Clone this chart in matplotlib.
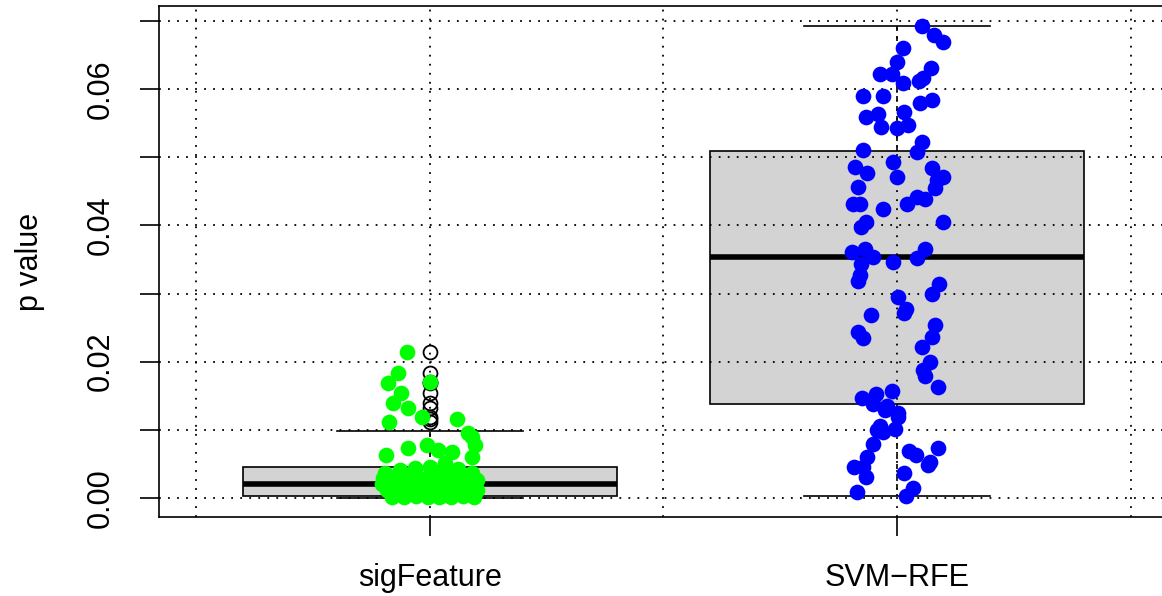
import matplotlib
matplotlib.use('Agg')
import matplotlib.pyplot as plt

plt.rcParams['font.family'] = ['Liberation Sans', 'DejaVu Sans']

groups = ['sigFeature', 'SVM\u2212RFE']
positions = [1, 2]

# five-number summaries
q1 = [0.0003, 0.0138]
med = [0.0021, 0.0354]
q3 = [0.0045, 0.0509]
whis_lo = [0.0000, 0.0003]
whis_hi = [0.0098, 0.0692]

# jittered points: horizontal offset from the group centre, p value
sig_jit = [-0.050, -0.068, -0.090, -0.062, -0.079, -0.047, -0.088, -0.017, 0.000, 0.058,
           0.081, 0.090, 0.096, -0.094, -0.047, -0.006, 0.017, 0.047, 0.090,
           -0.096, -0.064, -0.032, 0.000, 0.032, 0.060, 0.090, -0.080, 0.045, 0.015,
           -0.100, -0.075, -0.047, -0.020, 0.010, 0.036, 0.062, 0.085, 0.100,
           -0.103, -0.083, -0.056, -0.030, -0.005, 0.020, 0.045, 0.070, 0.095,
           -0.092, -0.066, -0.040, -0.015, 0.010, 0.035, 0.060, 0.085, 0.101,
           -0.082, -0.056, -0.030, -0.005, 0.020, 0.045, 0.070, 0.095, -0.070, 0.030]
sig_p = [0.0214, 0.0183, 0.0169, 0.0154, 0.0139, 0.0132, 0.0111, 0.0119, 0.0170, 0.0116,
         0.0095, 0.0089, 0.0078, 0.0063, 0.0073, 0.0078, 0.0070, 0.0067, 0.0060,
         0.0037, 0.0041, 0.0044, 0.0046, 0.0051, 0.0043, 0.0037, 0.0030, 0.0039, 0.0035,
         0.0029, 0.0031, 0.0034, 0.0028, 0.0033, 0.0030, 0.0027, 0.0032, 0.0026,
         0.0020, 0.0018, 0.0022, 0.0019, 0.0023, 0.0020, 0.0017, 0.0022, 0.0019,
         0.0011, 0.0009, 0.0012, 0.0008, 0.0011, 0.0010, 0.0013, 0.0009, 0.0012,
         0.0002, 0.0001, 0.0003, 0.0001, 0.0002, 0.0001, 0.0003, 0.0002, 0.0006, 0.0005]

svm_jit = [0.054, 0.079, 0.098, 0.013, 0.000, -0.036, -0.011, 0.013, 0.073, 0.047,
           0.056, -0.073, -0.030, 0.049, 0.075, -0.066, -0.041, -0.034, 0.015, 0.000,
           0.024, 0.054, 0.043, -0.073, -0.009, -0.090, -0.064, 0.000, 0.075, 0.098,
           -0.084, 0.086, 0.081, -0.094, -0.079, -0.030, 0.021, 0.043, 0.060, -0.066,
           -0.077, 0.098, -0.096, -0.069, -0.051, -0.077, -0.079, -0.084, -0.009, 0.043,
           0.060, 0.090, 0.075, 0.002, 0.019, 0.015, -0.056, -0.084, -0.073, 0.081,
           0.075, 0.054, 0.071, 0.056, 0.060, 0.088, -0.075, -0.051, -0.045, -0.011,
           -0.021, -0.026, 0.002, 0.002, -0.036, -0.043, -0.030, -0.004, -0.051, -0.064,
           -0.092, -0.073, -0.066, -0.086, 0.026, 0.041, 0.088, 0.071, 0.066, 0.015,
           0.034, 0.019]
svm_p = [0.0692, 0.0679, 0.0669, 0.0660, 0.0640, 0.0622, 0.0622, 0.0609, 0.0631, 0.0612,
         0.0616, 0.0590, 0.0590, 0.0579, 0.0584, 0.0559, 0.0563, 0.0544, 0.0566, 0.0543,
         0.0547, 0.0522, 0.0508, 0.0511, 0.0493, 0.0486, 0.0477, 0.0471, 0.0484, 0.0471,
         0.0456, 0.0466, 0.0455, 0.0431, 0.0431, 0.0424, 0.0431, 0.0442, 0.0439, 0.0405,
         0.0398, 0.0405, 0.0361, 0.0365, 0.0354, 0.0343, 0.0327, 0.0318, 0.0346, 0.0352,
         0.0365, 0.0314, 0.0299, 0.0295, 0.0277, 0.0271, 0.0268, 0.0244, 0.0235, 0.0254,
         0.0236, 0.0222, 0.0200, 0.0188, 0.0179, 0.0163, 0.0147, 0.0138, 0.0153, 0.0157,
         0.0135, 0.0129, 0.0125, 0.0119, 0.0106, 0.0100, 0.0097, 0.0101, 0.0079, 0.0060,
         0.0045, 0.0045, 0.0031, 0.0009, 0.0069, 0.0063, 0.0073, 0.0053, 0.0048, 0.0037,
         0.0015, 0.0003]

point_colors = ['#00ff00', '#0000ff']
y_ticks = [0.00, 0.01, 0.02, 0.03, 0.04, 0.05, 0.06, 0.07]
y_labels = ['0.00', '', '0.02', '', '0.04', '', '0.06', '']

fliers = [[v for v in sig_p if v > whis_hi[0]], [v for v in svm_p if v > whis_hi[1]]]

stats = []
for i in range(2):
    stats.append({'q1': q1[i], 'med': med[i], 'q3': q3[i],
                  'whislo': whis_lo[i], 'whishi': whis_hi[i], 'fliers': fliers[i]})

fig = plt.figure(figsize=(11.62, 5.96), dpi=100)
ax = fig.add_axes([159 / 1162, 1 - 517 / 596, (1168 - 159) / 1162, (517 - 6) / 596])

ax.bxp(stats, positions=positions, widths=0.8, patch_artist=True, zorder=2,
       boxprops=dict(facecolor='#d3d3d3', edgecolor='black', linewidth=1.2),
       medianprops=dict(color='black', linewidth=4, solid_capstyle='butt'),
       whiskerprops=dict(color='black', linewidth=1.2, linestyle=(0, (3, 3))),
       capprops=dict(color='black', linewidth=1.2),
       flierprops=dict(marker='o', markerfacecolor='none', markeredgecolor='black',
                       markersize=10, markeredgewidth=1.3))

# dotted grid on top of the boxes
for gx in [0.5, 1.0, 1.5, 2.0, 2.5]:
    ax.axvline(gx, color='black', linewidth=1.3, linestyle=(0, (1, 4)), zorder=2.5)
for gy in y_ticks:
    ax.axhline(gy, color='black', linewidth=1.3, linestyle=(0, (1, 4)), zorder=2.5)

jits = [sig_jit, svm_jit]
vals = [sig_p, svm_p]
for i in range(2):
    xs = [positions[i] + j for j in jits[i]]
    ax.plot(xs, vals[i], 'o', color=point_colors[i], markersize=11.3,
            markeredgewidth=0, linestyle='none', zorder=3)

ax.set_xlim(0.42, 2.58)
ax.set_ylim(-0.00279, 0.07218)

ax.set_xticks(positions)
ax.set_xticklabels(groups)
ax.set_yticks(y_ticks)
ax.set_yticklabels(y_labels, rotation=90, va='center')
ax.tick_params(axis='both', length=14, width=1.2, labelsize=22, color='black')
ax.tick_params(axis='x', pad=19)
ax.tick_params(axis='y', pad=17)
for s in ax.spines.values():
    s.set_linewidth(1.2)
    s.set_color('black')

fig.text(30 / 1162, 1 - 262 / 596, 'p value', rotation=90, ha='center', va='center',
         fontsize=22)

fig.savefig('out.png', dpi=100)
